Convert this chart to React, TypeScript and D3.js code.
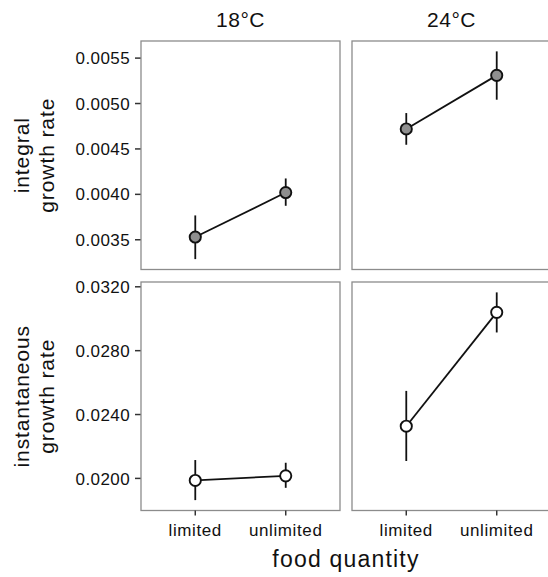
import React from "react";
import * as d3 from "d3";

// ---- data ----
const temps = ["18°C", "24°C"];
const food = ["limited", "unlimited"];
// order: [18-limited, 18-unlimited, 24-limited, 24-unlimited]
const integralMean = [0.00353, 0.00402, 0.00472, 0.00531];
const integralLower = [0.003287, 0.003874, 0.004546, 0.005042];
const integralUpper = [0.003768, 0.004175, 0.004895, 0.005574];
const instMean = [0.01987, 0.02016, 0.02327, 0.0304];
const instLower = [0.01864, 0.01941, 0.02109, 0.02914];
const instUpper = [0.02115, 0.02098, 0.02548, 0.03165];
const integralTicks = [0.0035, 0.004, 0.0045, 0.005, 0.0055];
const instTicks = [0.02, 0.024, 0.028, 0.032];
const rowTitles = [["integral", "growth rate"], ["instantaneous", "growth rate"]];
const xTitle = "food quantity";

const W = 548;
const H = 577;
const left = 141;
const top = 41;
const pw = 199;
const ph = 228.5;
const gapX = 12;
const gapY = 12.5;
const font = "'Liberation Sans', Arial, sans-serif";

function expandDomain(lo: number[], hi: number[]): [number, number] {
  const mn = d3.min(lo) as number;
  const mx = d3.max(hi) as number;
  const pad = (mx - mn) * 0.05;
  return [mn - pad, mx + pad];
}

const rows = [
  { mean: integralMean, lower: integralLower, upper: integralUpper, ticks: integralTicks, fill: "#8f8f8f" },
  { mean: instMean, lower: instLower, upper: instUpper, ticks: instTicks, fill: "#ffffff" },
];

export default function App() {
  const fmt = d3.format(".4f");
  return (
    <svg width={W} height={H} style={{ position: "absolute", left: 0, top: 0, background: "#fff" }}>
      {temps.map((t, ci) => (
        <text key={"strip" + ci} x={left + ci * (pw + gapX) + pw / 2} y={27} textAnchor="middle"
          fontFamily={font} fontSize={21} letterSpacing={0.5} fill="#111">{t}</text>
      ))}
      {rows.map((row, ri) => {
        const y0 = top + ri * (ph + gapY);
        const y = d3.scaleLinear().domain(expandDomain(row.lower, row.upper)).range([y0 + ph, y0]);
        return (
          <g key={"row" + ri}>
            {rowTitles[ri].map((line, li) => (
              <text key={li} transform={`translate(${29 + li * 24.5},${y0 + ph / 2}) rotate(-90)`}
                textAnchor="middle" fontFamily={font} fontSize={21} letterSpacing={0.9} fill="#111">{line}</text>
            ))}
            {row.ticks.map((tv, ti) => (
              <g key={"yt" + ti}>
                <line x1={left - 6} x2={left} y1={y(tv)} y2={y(tv)} stroke="#333" strokeWidth={1.5} />
                <text x={left - 11} y={y(tv)} dy="0.36em" textAnchor="end" fontFamily={font}
                  fontSize={17} letterSpacing={0.4} fill="#111">{fmt(tv)}</text>
              </g>
            ))}
            {temps.map((t, ci) => {
              const x0 = left + ci * (pw + gapX);
              const x = d3.scalePoint<string>().domain(food).range([x0, x0 + pw]).padding(0.6);
              const idx = food.map((_, fi) => ci * 2 + fi);
              const line = d3.line<number>().x((i) => x(food[i % 2]) as number).y((i) => y(row.mean[i]));
              return (
                <g key={"panel" + ci}>
                  <rect x={x0} y={y0} width={pw} height={ph} fill="#fff" stroke="#8c8c8c" strokeWidth={1.3} />
                  {ri === 1 && food.map((f) => (
                    <g key={"xt" + f}>
                      <line x1={x(f)} x2={x(f)} y1={y0 + ph} y2={y0 + ph + 5} stroke="#333" strokeWidth={1.5} />
                      <text x={x(f)} y={536} textAnchor="middle" fontFamily={font} fontSize={17}
                        letterSpacing={0.6} fill="#111">{f}</text>
                    </g>
                  ))}
                  <path d={line(idx) || ""} fill="none" stroke="#111" strokeWidth={1.8} />
                  {idx.map((i) => (
                    <line key={"eb" + i} x1={x(food[i % 2])} x2={x(food[i % 2])} y1={y(row.lower[i])} y2={y(row.upper[i])}
                      stroke="#111" strokeWidth={1.8} />
                  ))}
                  {idx.map((i) => (
                    <circle key={"pt" + i} cx={x(food[i % 2])} cy={y(row.mean[i])} r={5.6} fill={row.fill}
                      stroke="#111" strokeWidth={1.9} />
                  ))}
                </g>
              );
            })}
          </g>
        );
      })}
      <text x={left + pw + gapX / 2} y={567} textAnchor="middle" fontFamily={font} fontSize={23}
        letterSpacing={1.2} fill="#111">{xTitle}</text>
    </svg>
  );
}
